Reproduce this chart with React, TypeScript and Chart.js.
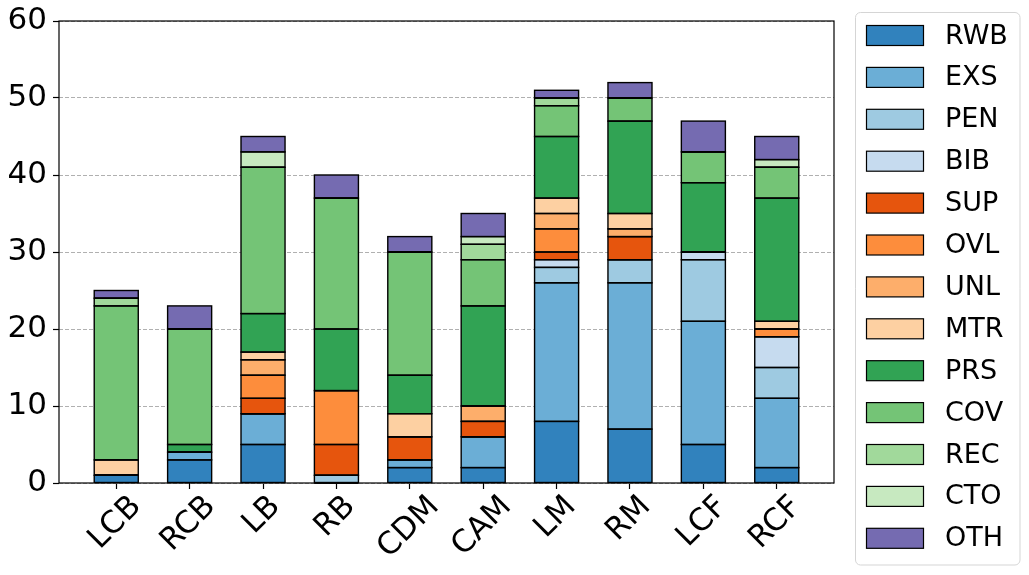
import { useEffect, useRef } from "react"
import { Chart, registerables } from "chart.js"

Chart.register(...registerables)

// positions on the pitch
const positions = ["LCB", "RCB", "LB", "RB", "CDM", "CAM", "LM", "RM", "LCF", "RCF"]

// counts per action type, one value per position
const RWB = [1, 3, 5, 0, 2, 2, 8, 7, 5, 2]
const EXS = [0, 1, 4, 0, 1, 4, 18, 19, 16, 9]
const PEN = [0, 0, 0, 1, 0, 0, 2, 3, 8, 4]
const BIB = [0, 0, 0, 0, 0, 0, 1, 0, 1, 4]
const SUP = [0, 0, 2, 4, 3, 2, 1, 3, 0, 0]
const OVL = [0, 0, 3, 7, 0, 0, 3, 0, 0, 1]
const UNL = [0, 0, 2, 0, 0, 2, 2, 1, 0, 0]
const MTR = [2, 0, 1, 0, 3, 0, 2, 2, 0, 1]
const PRS = [0, 1, 5, 8, 5, 13, 8, 12, 9, 16]
const COV = [20, 15, 19, 17, 16, 6, 4, 3, 4, 4]
const REC = [1, 0, 0, 0, 0, 2, 1, 0, 0, 0]
const CTO = [0, 0, 2, 0, 0, 1, 0, 0, 0, 1]
const OTH = [1, 3, 2, 3, 2, 3, 1, 2, 4, 3]

const yTicks = [0, 10, 20, 30, 40, 50, 60]

const seriesNames = ["RWB", "EXS", "PEN", "BIB", "SUP", "OVL", "UNL", "MTR", "PRS", "COV", "REC", "CTO", "OTH"]
const seriesValues = [RWB, EXS, PEN, BIB, SUP, OVL, UNL, MTR, PRS, COV, REC, CTO, OTH]
const seriesColors = [
  "#3182bd", "#6baed6", "#9ecae1", "#c6dbef",
  "#e6550d", "#fd8d3c", "#fdae6b", "#fdd0a2",
  "#31a354", "#74c476", "#a1d99b", "#c7e9c0",
  "#756bb1",
]

const FONT = "'DejaVu Sans', sans-serif"
const TICK_SIZE = 31

// bar edges, axes frame, rotated x labels and the boxed legend
const decorPlugin = {
  id: "decor",
  afterDatasetsDraw(chart: any) {
    const { ctx, chartArea } = chart
    ctx.save()
    // black edges centred on each bar outline
    ctx.strokeStyle = "#000"
    ctx.lineWidth = 1.4
    chart.getSortedVisibleDatasetMetas().forEach((meta: any) => {
      meta.data.forEach((el: any) => {
        const { x, y, base, width } = el.getProps(["x", "y", "base", "width"], true)
        const top = Math.min(y, base)
        const h = Math.abs(base - y)
        ctx.strokeRect(x - width / 2, top, width, h)
      })
    })
    ctx.lineWidth = 1.2
    ctx.strokeRect(chartArea.left, chartArea.top, chartArea.right - chartArea.left, chartArea.bottom - chartArea.top)
    ctx.restore()
  },
  afterDraw(chart: any) {
    const { ctx, chartArea } = chart
    const xScale = chart.scales.x

    // x tick labels, rotated 45 degrees and centred under the tick
    ctx.save()
    ctx.font = `${TICK_SIZE}px ${FONT}`
    ctx.fillStyle = "#000"
    ctx.textAlign = "center"
    ctx.textBaseline = "middle"
    positions.forEach((label, i) => {
      const px = xScale.getPixelForValue(i)
      const w = ctx.measureText(label).width
      const cy = chartArea.bottom + 9 + (w + 0.9 * TICK_SIZE) * 0.3536
      ctx.save()
      ctx.translate(px - 1, cy)
      ctx.rotate(-Math.PI / 4)
      ctx.fillText(label, 0, 0)
      ctx.restore()
    })
    ctx.restore()

    // legend
    const lx = 855.5
    const ly = 12.5
    const lw = 164.5
    const lh = 552.5
    ctx.save()
    ctx.beginPath()
    ctx.roundRect(lx, ly, lw, lh, 5)
    ctx.fillStyle = "#fff"
    ctx.fill()
    ctx.strokeStyle = "#d5d5d5"
    ctx.lineWidth = 1
    ctx.stroke()
    ctx.font = `27px ${FONT}`
    ctx.textAlign = "left"
    ctx.textBaseline = "middle"
    chart.data.datasets.forEach((ds: any, i: number) => {
      const cy = 35.5 + i * 41.9
      ctx.fillStyle = ds.backgroundColor
      ctx.fillRect(866.5, cy - 10, 57, 20)
      ctx.strokeStyle = "#000"
      ctx.lineWidth = 1.2
      ctx.strokeRect(866.5, cy - 10, 57, 20)
      ctx.fillStyle = "#000"
      ctx.fillText(ds.label, 945, cy + 1)
    })
    ctx.restore()
  },
}

export default function App() {
  const canvasRef = useRef<HTMLCanvasElement>(null)
  const chartRef = useRef<Chart | null>(null)

  useEffect(() => {
    if (!canvasRef.current) return
    if (chartRef.current) chartRef.current.destroy()
    const ctx = canvasRef.current.getContext("2d")
    if (!ctx) return

    chartRef.current = new Chart(ctx, {
      type: "bar",
      data: {
        datasets: seriesNames.map((name, s) => ({
          label: name,
          data: seriesValues[s].map((v, i) => ({ x: i, y: v })),
          backgroundColor: seriesColors[s],
          borderWidth: 0,
          barPercentage: 0.6,
          categoryPercentage: 1,
        })),
      },
      options: {
        animation: false,
        responsive: true,
        maintainAspectRatio: false,
        layout: { padding: { top: 21, right: 195, left: 0, bottom: 0 } },
        plugins: {
          legend: { display: false },
          tooltip: { enabled: false },
        },
        scales: {
          x: {
            type: "linear",
            stacked: true,
            min: -0.78,
            max: 9.78,
            offset: false,
            afterBuildTicks: (scale: any) => {
              scale.ticks = positions.map((_, i) => ({ value: i }))
            },
            afterFit: (scale: any) => {
              scale.height = 92
              scale.paddingLeft = 0
              scale.paddingRight = 0
            },
            ticks: { display: false },
            border: { display: false },
            grid: {
              offset: false,
              drawOnChartArea: false,
              drawTicks: true,
              tickLength: 6,
              tickColor: "#000",
              tickWidth: 1.2,
            },
          },
          y: {
            stacked: true,
            min: 0,
            max: 60,
            afterBuildTicks: (scale: any) => {
              scale.ticks = yTicks.map((v) => ({ value: v }))
            },
            afterFit: (scale: any) => {
              scale.width = 59
              scale.paddingTop = 0
              scale.paddingBottom = 0
            },
            ticks: {
              color: "#000",
              font: { family: FONT, size: TICK_SIZE },
              padding: 6,
            },
            border: { display: false, dash: [4, 2] },
            grid: {
              color: "#b0b0b0",
              lineWidth: 1,
              drawTicks: true,
              tickLength: 6,
              tickColor: "#000",
              tickWidth: 1.2,
              tickBorderDash: [],
            },
          },
        },
      },
      plugins: [decorPlugin],
    } as any)

    return () => {
      if (chartRef.current) {
        chartRef.current.destroy()
        chartRef.current = null
      }
    }
  }, [])

  return (
    <div style={{ position: "absolute", left: 0, top: 0, width: 1029, height: 575, background: "#fff" }}>
      <canvas ref={canvasRef}></canvas>
    </div>
  )
}
